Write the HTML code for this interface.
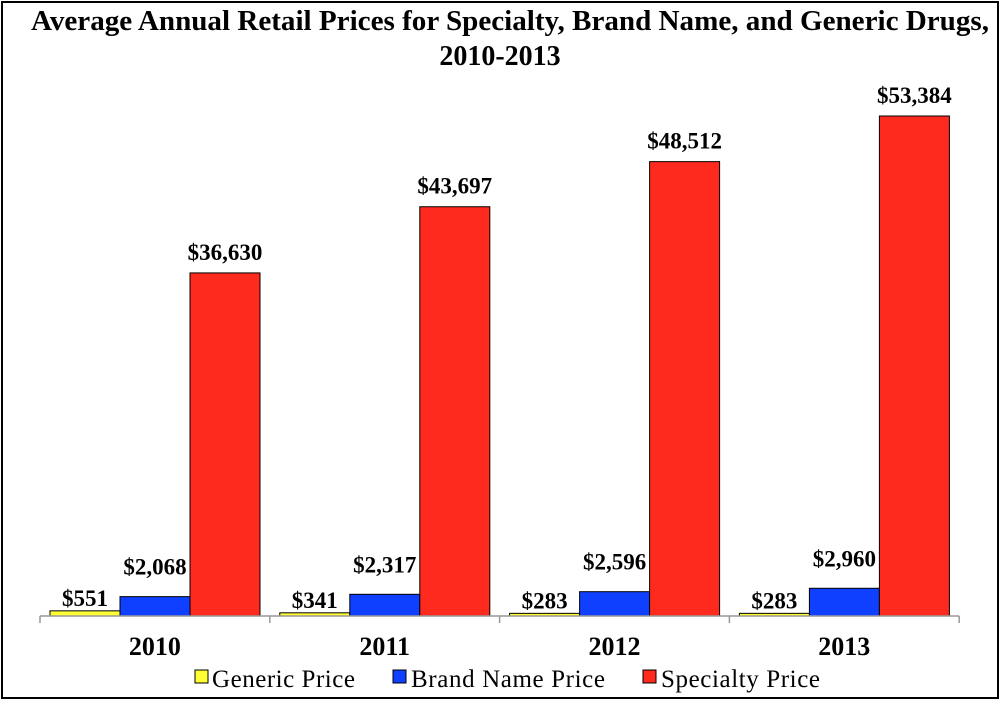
<!DOCTYPE html>
<html><head><meta charset="utf-8"><style>
body{margin:0;background:#fff;}
svg{display:block;font-family:"Liberation Serif",serif;}
</style></head><body>
<svg width="1001" height="708" viewBox="0 0 1001 708">
<rect x="2" y="2" width="996" height="696" fill="#fff" stroke="#000" stroke-width="2"/>
<text x="510" y="30" text-anchor="middle" font-size="28" font-weight="bold" textLength="958" lengthAdjust="spacingAndGlyphs">Average Annual Retail Prices for Specialty, Brand Name, and Generic Drugs,</text>
<text x="500" y="65" text-anchor="middle" font-size="28" font-weight="bold">2010-2013</text>
<g id="plot"></g>
<g>
<rect x="195" y="670" width="13" height="13" fill="#ffff33" stroke="#000"/>
<text x="212" y="687" font-size="25" textLength="143">Generic Price</text>
<rect x="393" y="670" width="13" height="13" fill="#1040ff" stroke="#000"/>
<text x="411" y="687" font-size="25" textLength="194">Brand Name Price</text>
<rect x="643" y="670" width="13" height="13" fill="#ff2a1e" stroke="#000"/>
<text x="661" y="687" font-size="25" textLength="159">Specialty Price</text>
</g>
</svg>
<script>
const categories=["2010","2011","2012","2013"];
const generic=[551,341,283,283];
const brand=[2068,2317,2596,2960];
const specialty=[36630,43697,48512,53384];
const seriesNames=["generic","brand","specialty"];
const colors=["#ffff33","#1040ff","#ff2a1e"];
const labelOffsets=[5,22,13];
const NS="http://www.w3.org/2000/svg";
const g=document.getElementById("plot");
const x0=40,catW=229.8,base=616,scale=500/53384;
const y=v=>base-v*scale;
function mk(t,a){const e=document.createElementNS(NS,t);for(const k in a)e.setAttribute(k,a[k]);g.appendChild(e);return e;}
const series=[generic,brand,specialty];
categories.forEach((c,i)=>{
  const gx=x0+i*catW;
  series.forEach((s,j)=>{
    const bx=gx+10+j*70, by=y(s[i]);
    const r=mk("rect",{x:bx,y:by,width:70,height:base-by,fill:colors[j],stroke:"#000","stroke-width":1});
    
    
    const t=mk("text",{x:bx+35,y:by-labelOffsets[j],"text-anchor":"middle","font-size":"23","font-weight":"bold"});
    t.textContent="$"+s[i].toLocaleString("en-US");
    
    
  });
  const l=mk("text",{x:gx+catW/2,y:655,"text-anchor":"middle","font-size":"26","font-weight":"bold"});
  l.textContent=c;
  
  
});
const ax=mk("line",{x1:x0,y1:base,x2:x0+4*catW,y2:base,stroke:"#999","stroke-width":1.5});


for(let i=0;i<=4;i++){
  const tk=mk("line",{x1:x0+i*catW,y1:base,x2:x0+i*catW,y2:base+7,stroke:"#999","stroke-width":1.5});
  
  
}
</script>
</body></html>
